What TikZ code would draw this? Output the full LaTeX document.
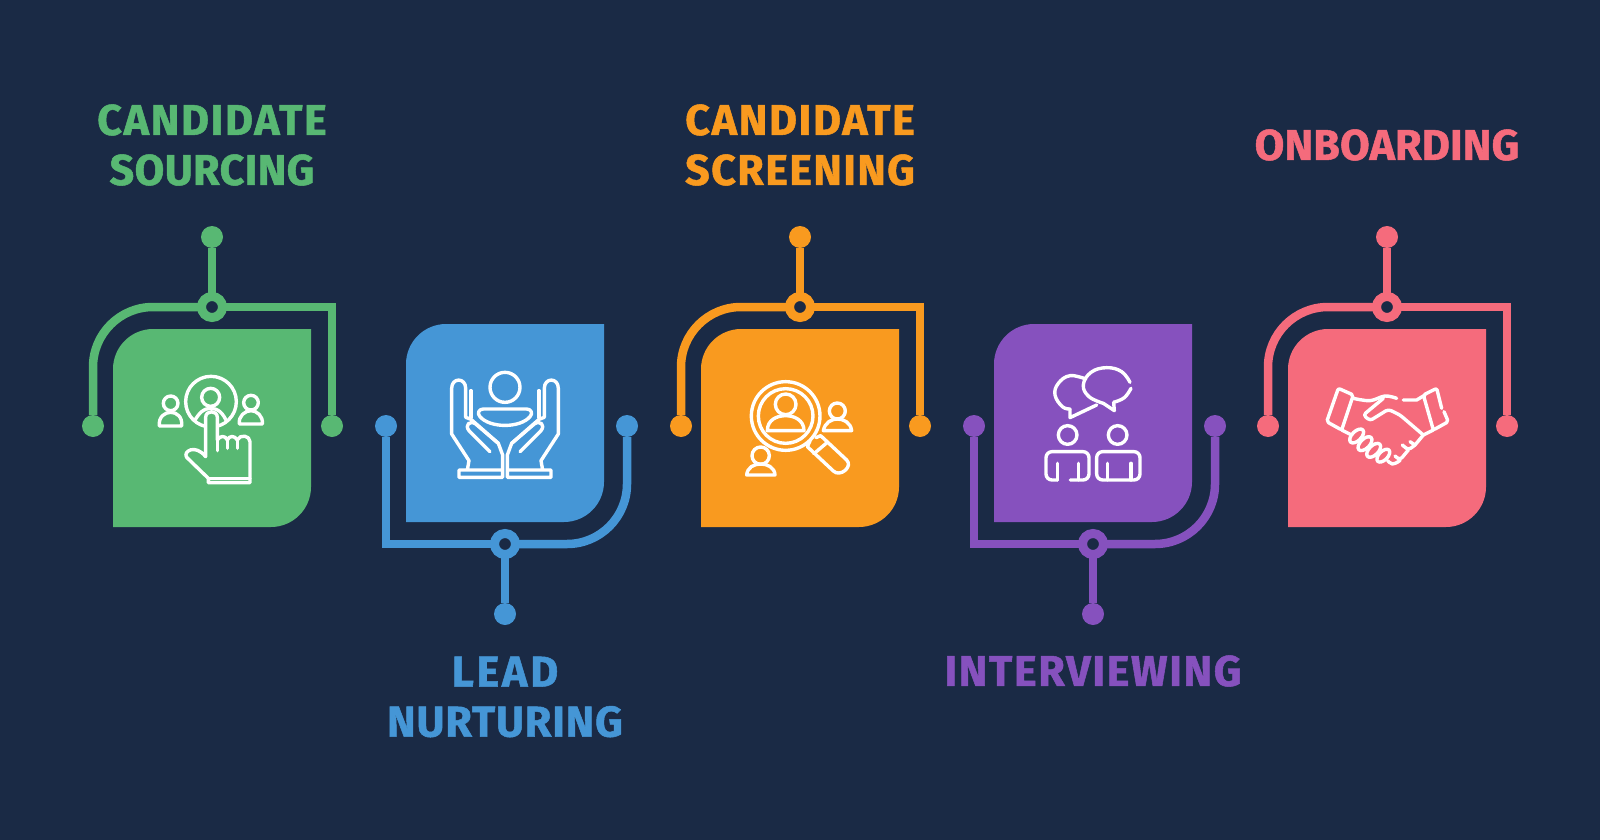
\documentclass[tikz,border=0pt]{standalone}
\usepackage{fontspec}
\newfontfamily\lab{Fira Sans}[LetterSpace=4,BoldFeatures={FakeBold=1.2}]
\newcommand{\ls}[2]{{\addfontfeature{LetterSpace=#1}#2}}
\definecolor{bg}{HTML}{1A2A45}
\definecolor{cgreen}{HTML}{58B873}
\definecolor{cblue}{HTML}{4596D6}
\definecolor{corange}{HTML}{F99A1F}
\definecolor{cpurple}{HTML}{8651BE}
\definecolor{cpink}{HTML}{F56B7C}
\tikzset{
  tipdot/.style={circle,minimum size=22pt,inner sep=0pt,outer sep=0pt},
  ringdot/.style={circle,minimum size=21pt,inner sep=0pt,outer sep=0pt,line width=9pt,fill=bg},
  wire/.style={line width=8.5pt},
  lbl/.style={align=center,font=\lab\bfseries\fontsize{43}{50}\selectfont},
  ic/.style={draw=white,line width=3.4pt,line cap=round,line join=round},
  iconbox/.style={x=0.3333pt,y=-0.3333pt},
}
\newcommand{\leafbox}[4]{% name, x, y, colour : 198 square, two rounded corners
  \fill[#4] (#2,#3+198) -- (#2,#3+40) .. controls (#2,#3+18) and (#2+18,#3) .. (#2+40,#3)
     -- (#2+198,#3) -- (#2+198,#3+158) .. controls (#2+198,#3+180) and (#2+180,#3+198) .. (#2+158,#3+198) -- cycle;
}
\newcommand{\upunit}[3]{% id, dx, colour
 \begin{scope}[shift={(#2,0)}]
  \leafbox{#1}{113}{329}{#3}
  \node[tipdot,fill=#3] (#1t) at (212,237) {};
  \node[ringdot,draw=#3] (#1r) at (212,307) {};
  \node[tipdot,fill=#3] (#1l) at (93,426) {};
  \node[tipdot,fill=#3] (#1e) at (332,426) {};
  \draw[wire,#3] (#1t) -- (#1r);
  \draw[wire,#3,rounded corners=60pt] (#1l) |- (#1r);
  \draw[wire,#3] (#1r) -| (#1e);
 \end{scope}}
\newcommand{\downunit}[3]{% id, dx, colour
 \begin{scope}[shift={(#2,0)}]
  \leafbox{#1}{406}{324}{#3}
  \node[tipdot,fill=#3] (#1t) at (505,614) {};
  \node[ringdot,draw=#3] (#1r) at (505,544) {};
  \node[tipdot,fill=#3] (#1l) at (386,426) {};
  \node[tipdot,fill=#3] (#1e) at (627,426) {};
  \draw[wire,#3] (#1t) -- (#1r);
  \draw[wire,#3,rounded corners=60pt] (#1e) |- (#1r);
  \draw[wire,#3] (#1r) -| (#1l);
 \end{scope}}
\begin{document}
\begin{tikzpicture}[x=1pt,y=-1pt]
\useasboundingbox (0,0) rectangle (1600,840);
\fill[bg] (0,0) rectangle (1600,840);

\upunit{a}{0}{cgreen}
\downunit{b}{0}{cblue}
\upunit{c}{588}{corange}
\downunit{d}{588}{cpurple}
\upunit{e}{1175}{cpink}

\node[lbl,text=cgreen] (la) at (212,145) {CANDIDATE\\\ls{1}{SOURCING}};
\node[lbl,text=cblue] (lb) at (505,697) {\ls{6.5}{LEAD}\\\ls{2}{NURTURING}};
\node[lbl,text=corange] (lc) at (800,145) {CANDIDATE\\\ls{3.3}{SCREENING}};
\node[lbl,text=cpurple] (ld) at (1093,671) {INTERVIEWING};
\node[lbl,text=cpink] (le) at (1387,145) {\ls{0.5}{ONBOARDING}};

% icon 1
\begin{scope}[shift={(140,360)},iconbox]
 \draw[ic] (213,125) circle[radius=76];
 \draw[ic] (212,112) circle[radius=27];
 \draw[ic] plot[smooth,tension=.7] coordinates {(165,180) (185,155) (212,145) (240,155) (258,180)};
 \draw[ic] (92,130) circle[radius=22];
 \draw[ic] (58,198) .. controls (55,170) and (75,157) .. (92,157) .. controls (110,157) and (128,170) .. (125,198) -- cycle;
 \draw[ic] (333,128) circle[radius=22];
 \draw[ic] (298,192) .. controls (295,168) and (315,152) .. (333,152) .. controls (350,152) and (370,168) .. (367,192) -- cycle;
 \filldraw[ic,fill=cgreen] (197,290) -- (197,172) .. controls (197,150) and (232,150) .. (232,172)
   -- (232,240) .. controls (240,226) and (256,226) .. (262,240)
   .. controls (268,226) and (284,226) .. (292,240)
   .. controls (300,222) and (330,226) .. (330,245)
   -- (330,368) -- (205,368) -- (205,355) -- (140,292) .. controls (128,275) and (165,250) .. cycle;
 \draw[ic] (232,240) -- (232,272);
 \draw[ic] (262,240) -- (262,265);
 \draw[ic] (292,240) -- (292,265);
 \draw[ic] (205,355) -- (330,355);
\end{scope}

% icon 2
\begin{scope}[shift={(435,360)},iconbox]
 \draw[ic] (210,82) circle[radius=45];
 \draw[ic] (145,147) -- (275,147) .. controls (288,147) and (295,160) .. (285,170) .. controls (255,205) and (165,205) .. (135,170) .. controls (125,160) and (132,147) .. cycle;
 \foreach \m/\s in {0/1,420/-1}{
 \begin{scope}[shift={(\m,0)},xscale=\s]
  \draw[ic] (97,330) -- (102,302) -- (50,222) -- (50,85) .. controls (50,52) and (92,52) .. (92,85) -- (92,172) -- (108,178) -- (190,250) -- (203,285) -- (203,352) -- (72,352) -- (72,330) -- (203,330);
  \draw[ic] (108,92) -- (108,172);
  \draw[ic] (165,275) -- (102,212) .. controls (88,195) and (105,180) .. (122,192) -- (190,250);
 \end{scope}}
\end{scope}

% icon 3
\begin{scope}[shift={(730,365)},iconbox]
 \draw[ic] (167,153) circle[radius=103];
 \draw[ic] (167,153) circle[radius=82];
 \draw[ic] (167,118) circle[radius=31];
 \draw[ic] (112,197) .. controls (112,165) and (140,152) .. (167,152) .. controls (192,152) and (222,165) .. (222,197) -- cycle;
 \draw[ic] (240,228) -- (232,245) -- (310,318) .. controls (330,338) and (370,305) .. (350,285) -- (272,212) -- (258,218);
 \draw[ic] (252,266) -- (292,232);
 \draw[ic] (322,138) circle[radius=24];
 \draw[ic] (280,197) .. controls (285,172) and (305,162) .. (322,162) .. controls (340,162) and (362,172) .. (365,197) -- cycle;
 \draw[ic] (92,272) circle[radius=26];
 \draw[ic] (50,330) .. controls (52,307) and (72,297) .. (92,297) .. controls (112,297) and (134,307) .. (135,330) -- cycle;
\end{scope}

% icon 4
\begin{scope}[shift={(1025,355)},iconbox]
 \draw[ic] plot[smooth,tension=.7] coordinates {(182,72) (135,62) (100,85) (90,120) (112,155) (135,162)};
 \draw[ic] (135,162) -- (135,188) -- (215,150);
 \draw[ic] plot[smooth,tension=.7] coordinates {(315,82) (290,50) (245,38) (198,52) (175,90) (192,125) (235,145)};
 \draw[ic] (235,145) -- (268,167) -- (266,142);
 \draw[ic] plot[smooth,tension=.7] coordinates {(266,142) (298,128) (318,100)};
 \draw[ic] (128,240) circle[radius=28];
 \draw[ic] (278,240) circle[radius=28];
 \draw[ic,rounded corners=6pt] (97,375) -- (63,375) -- (63,290) -- (192,290) -- (192,375) -- (136,375);
 \draw[ic] (97,325) -- (97,375);
 \draw[ic] (160,325) -- (160,375);
 \draw[ic,rounded corners=6pt] (215,375) -- (215,290) -- (345,290) -- (345,375) -- cycle;
 \draw[ic] (247,325) -- (247,375);
 \draw[ic] (318,325) -- (318,375);
\end{scope}

% icon 5
\begin{scope}[shift={(1315,370)},iconbox]
 \draw[ic,rounded corners=2pt] (70,55) -- (115,75) -- (80,180) -- (35,155) -- cycle;
 \draw[ic,rounded corners=2pt] (380,115) -- (365,55) -- (325,75) -- (355,180) -- (400,155) -- (387,125);
 \draw[ic] plot[smooth,tension=.6] coordinates {(115,85) (165,92) (210,78) (245,85)};
 \draw[ic] (265,90) -- (305,90) -- (330,75);
 \draw[ic,rounded corners=3pt] (205,85) -- (145,135) -- (165,152) -- (220,118) -- (255,135) -- (325,195);
 \draw[ic] (355,180) -- (325,195) -- (300,225) -- (285,215);
 \draw[ic] (80,180) -- (110,195);
 \draw[ic,rounded corners=3pt] (300,225) -- (280,240) -- (262,225);
 \draw[ic,rounded corners=3pt] (280,240) -- (255,270) -- (240,258);
 \draw[ic,rotate around={45:(125,198)}] (125,198) ellipse[x radius=26,y radius=14];
 \draw[ic,rotate around={45:(150,221)}] (150,221) ellipse[x radius=26,y radius=14];
 \draw[ic,rotate around={45:(176,241)}] (176,241) ellipse[x radius=26,y radius=14];
 \draw[ic,rotate around={45:(205,257)}] (205,257) ellipse[x radius=24,y radius=13];
 \draw[ic] plot[smooth,tension=.7] coordinates {(218,272) (232,282) (250,275) (255,270)};
\end{scope}
\end{tikzpicture}
\end{document}
